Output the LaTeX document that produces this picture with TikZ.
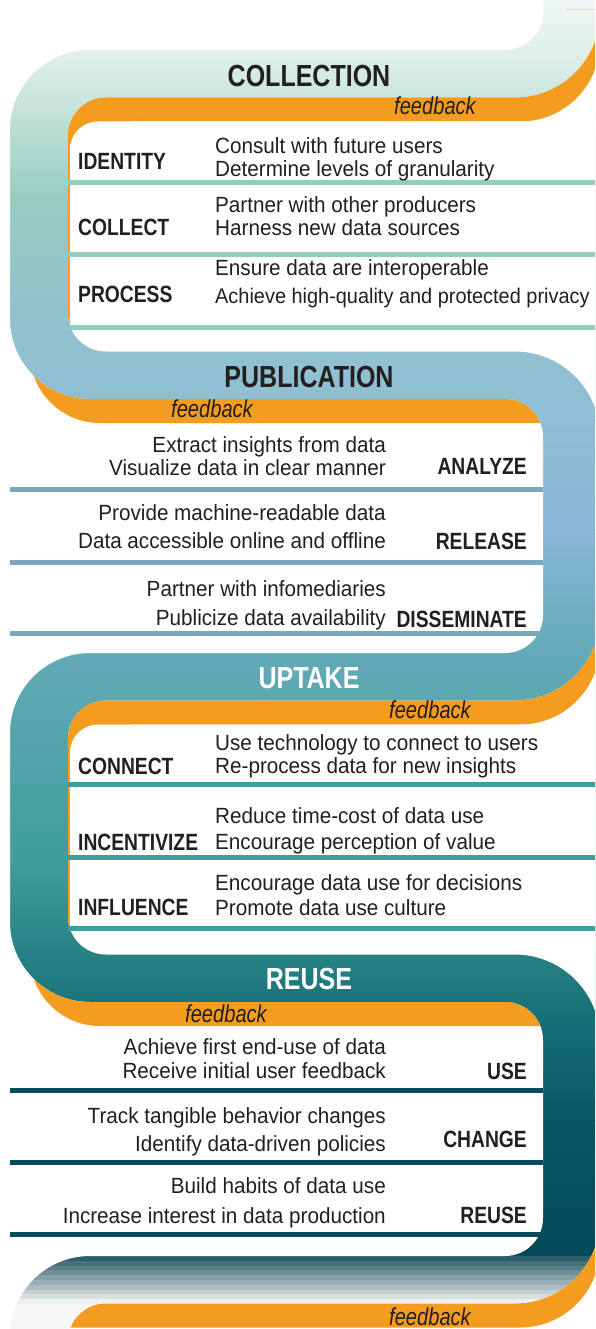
\documentclass[tikz,border=0pt]{standalone}
\usepackage{fontspec}
\setmainfont{Liberation Sans}[FakeStretch=0.94]
\newfontfamily\headfont{Liberation Sans}[FakeStretch=0.82]

\definecolor{inkgray}{HTML}{231F20}
\definecolor{feedorange}{HTML}{F39C1F}
\definecolor{sepmint}{HTML}{93CBBD}
\definecolor{sepblue}{HTML}{7BA7BF}
\definecolor{septeal}{HTML}{3D9E9C}
\definecolor{sepdark}{HTML}{0A4B5A}
\definecolor{bandtop}{HTML}{2F5E6B}
\definecolor{bandbot}{HTML}{F7F7F7}
% ribbon stops
\definecolor{ribbonA}{HTML}{F3F8F6}
\definecolor{ribbonB}{HTML}{DDEEE9}
\definecolor{ribbonC}{HTML}{96CCBF}
\definecolor{ribbonD}{HTML}{90C0CE}
\definecolor{ribbonE}{HTML}{8FBFD5}
\definecolor{ribbonF}{HTML}{88B6D7}
\definecolor{ribbonG}{HTML}{64AAB8}
\definecolor{ribbonH}{HTML}{3E9E9C}
\definecolor{ribbonI}{HTML}{1B7479}
\definecolor{ribbonJ}{HTML}{065767}
\definecolor{ribbonK}{HTML}{044A58}

\tikzset{
  body/.style={font=\fontsize{22}{26}\selectfont, text=inkgray, inner sep=0pt},
  stagelabel/.style={font=\headfont\bfseries\fontsize{23.5}{27}\selectfont, text=inkgray, inner sep=0pt},
  stagehead/.style={font=\headfont\bfseries\fontsize{30.5}{34}\selectfont, inner sep=0pt},
  feedlabel/.style={font=\headfont\itshape\fontsize{24.5}{28}\selectfont, text=inkgray, inner sep=0pt},
  sepline/.style={line width=5pt},
}

% white ground on the left side of the ribbon
\def\leftwhite{(-50,-50) -- (543,-50) -- (543,12) arc[start angle=0,end angle=90,radius=38]
  -- (90,50) arc[start angle=270,end angle=180,radius=80]
  -- (10,319) arc[start angle=180,end angle=90,radius=80]
  -- (505,399) arc[start angle=270,end angle=360,radius=38]
  -- (543,615) arc[start angle=0,end angle=90,radius=38]
  -- (90,653) arc[start angle=270,end angle=180,radius=80]
  -- (10,922) arc[start angle=180,end angle=90,radius=80]
  -- (505,1002) arc[start angle=270,end angle=360,radius=38]
  -- (543,1218) arc[start angle=0,end angle=90,radius=38]
  -- (90,1256) arc[start angle=270,end angle=180,radius=80]
  -- (10,1400) -- (-50,1400) -- cycle}
% white ground on the right side of the ribbon
\def\rightwhite{(650,-50) -- (600,-50) -- (600,12.5) arc[start angle=0,end angle=90,radius=85]
  -- (106,97.5) arc[start angle=270,end angle=180,radius=38]
  -- (68,313.5) arc[start angle=180,end angle=90,radius=38]
  -- (515,351.5) arc[start angle=270,end angle=360,radius=85]
  -- (600,615.5) arc[start angle=0,end angle=90,radius=85]
  -- (106,700.5) arc[start angle=270,end angle=180,radius=38]
  -- (68,916.5) arc[start angle=180,end angle=90,radius=38]
  -- (515,954.5) arc[start angle=270,end angle=360,radius=85]
  -- (600,1218.5) arc[start angle=0,end angle=90,radius=85]
  -- (106,1303.5) arc[start angle=270,end angle=180,radius=38]
  -- (68,1400) -- (650,1400) -- cycle}

\begin{document}
\begin{tikzpicture}[x=1pt,y=-1pt]
  \useasboundingbox (0,0) rectangle (595,1329);
  \clip (0,0) rectangle (595,1329);

  % ribbon colours, top to bottom
  \shade[top color=ribbonA, bottom color=ribbonB] (-10,-10) rectangle (610,60.5);
  \shade[top color=ribbonB, bottom color=ribbonC] (-10,60) rectangle (610,200.5);
  \shade[top color=ribbonC, bottom color=ribbonD] (-10,200) rectangle (610,330.5);
  \shade[top color=ribbonD, bottom color=ribbonE] (-10,330) rectangle (610,420.5);
  \shade[top color=ribbonE, bottom color=ribbonF] (-10,420) rectangle (610,530.5);
  \shade[top color=ribbonF, bottom color=ribbonG] (-10,530) rectangle (610,650.5);
  \shade[top color=ribbonG, bottom color=ribbonH] (-10,650) rectangle (610,860.5);
  \shade[top color=ribbonH, bottom color=ribbonI] (-10,860) rectangle (610,1000.5);
  \shade[top color=ribbonI, bottom color=ribbonJ] (-10,1000) rectangle (610,1120.5);
  \shade[top color=ribbonJ, bottom color=ribbonK] (-10,1120) rectangle (610,1256.5);
  \foreach \k [evaluate=\k as \mix using int(100-10.5*\k)] in {0,...,9}
    \fill[bandtop!\mix!bandbot] (-10,{1256+4.8*\k}) rectangle (610,{1261.2+4.8*\k});
  \fill[bandbot] (-10,1304) rectangle (610,1340);

  % ground on both sides
  \fill[white] \leftwhite;
  \fill[white] \rightwhite;
  \draw[feedorange!35, line width=1pt] (566,10) -- (595,10);

  % feedback lanes, right-hand bays
  \begin{scope}
    \clip \rightwhite;
    \fill[feedorange] (60,-50) -- (600,-50) -- (600,41.5) arc[start angle=0,end angle=90,radius=80]
      -- (130,121.5) -- (130,329.5) -- (60,329.5) -- cycle;
    \fill[feedorange] (60,553) -- (600,553) -- (600,644.5) arc[start angle=0,end angle=90,radius=80]
      -- (130,724.5) -- (130,930.5) -- (60,930.5) -- cycle;
    \fill[feedorange] (60,1156) -- (600,1156) -- (600,1247.5) arc[start angle=0,end angle=90,radius=80]
      -- (60,1327.5) -- cycle;
  \end{scope}
  % feedback lanes, left-hand bays
  \begin{scope}
    \clip \leftwhite;
    \fill[feedorange] (30,300) -- (700,300) -- (700,423)
      -- (100,423) arc[start angle=90,end angle=180,radius=70] -- cycle;
    \fill[feedorange] (30,903) -- (700,903) -- (700,1026)
      -- (100,1026) arc[start angle=90,end angle=180,radius=70] -- cycle;
  \end{scope}

  % white boxes
  \fill[white] (70,329.5) -- (70,149.5) arc[start angle=180,end angle=270,radius=28]
    -- (610,121.5) -- (610,329.5) -- cycle;
  \fill[white] (70,930.5) -- (70,752.5) arc[start angle=180,end angle=270,radius=28]
    -- (610,724.5) -- (610,930.5) -- cycle;

  % separators
  \foreach \y in {183,255,327} \draw[sepline, sepmint] (68,\y) -- (600,\y);
  \foreach \y in {489,562,633} \draw[sepline, sepblue] (10,\y) -- (543,\y);
  \foreach \y in {784,857,928} \draw[sepline, septeal] (68,\y) -- (600,\y);
  \foreach \y in {1090,1162,1234} \draw[sepline, sepdark] (10,\y) -- (543,\y);

  % stage titles
  \node[stagehead, text=inkgray, anchor=base] (collection) at (309,87) {COLLECTION};
  \node[stagehead, text=inkgray, anchor=base] (publication) at (309,387) {PUBLICATION};
  \node[stagehead, text=white, anchor=base] (uptake) at (309,688) {UPTAKE};
  \node[stagehead, text=white, anchor=base] (reuse) at (309,989) {REUSE};

  % feedback
  \node[feedlabel, anchor=base] (feedback1) at (435,115) {feedback};
  \node[feedlabel, anchor=base] (feedback2) at (212,417) {feedback};
  \node[feedlabel, anchor=base] (feedback3) at (430,718) {feedback};
  \node[feedlabel, anchor=base] (feedback4) at (226,1022) {feedback};
  \node[feedlabel, anchor=base] (feedback5) at (430,1325) {feedback};

  % collection
  \node[stagelabel, anchor=base west] (identify) at (78,170) {IDENTITY};
  \node[body, anchor=base west] (identify-a) at (215,154) {Consult with future users};
  \node[body, anchor=base west] (identify-b) at (215,177) {Determine levels of granularity};
  \node[stagelabel, anchor=base west] (collect) at (78,236) {COLLECT};
  \node[body, anchor=base west] (collect-a) at (215,213) {Partner with other producers};
  \node[body, anchor=base west] (collect-b) at (215,236) {Harness new data sources};
  \node[stagelabel, anchor=base west] (process) at (78,302) {PROCESS};
  \node[body, anchor=base west] (process-a) at (215,276) {Ensure data are interoperable};
  \node[body, anchor=base west, font=\fontsize{21.2}{26}\selectfont] (process-b) at (215,303) {Achieve high-quality and protected privacy};

  % publication
  \node[stagelabel, anchor=base east] (analyze) at (527,474) {ANALYZE};
  \node[body, anchor=base east] (analyze-a) at (386,452) {Extract insights from data};
  \node[body, anchor=base east] (analyze-b) at (386,475) {Visualize data in clear manner};
  \node[stagelabel, anchor=base east] (release) at (527,549) {RELEASE};
  \node[body, anchor=base east] (release-a) at (386,520) {Provide machine-readable data};
  \node[body, anchor=base east] (release-b) at (386,548) {Data accessible online and offline};
  \node[stagelabel, anchor=base east] (disseminate) at (527,627) {DISSEMINATE};
  \node[body, anchor=base east] (disseminate-a) at (386,596) {Partner with infomediaries};
  \node[body, anchor=base east] (disseminate-b) at (386,625) {Publicize data availability};

  % uptake
  \node[stagelabel, anchor=base west] (connect) at (78,774) {CONNECT};
  \node[body, anchor=base west] (connect-a) at (215,750) {Use technology to connect to users};
  \node[body, anchor=base west] (connect-b) at (215,773) {Re-process data for new insights};
  \node[stagelabel, anchor=base west] (incentivize) at (78,850) {INCENTIVIZE};
  \node[body, anchor=base west] (incentivize-a) at (215,823) {Reduce time-cost of data use};
  \node[body, anchor=base west] (incentivize-b) at (215,849) {Encourage perception of value};
  \node[stagelabel, anchor=base west] (influence) at (78,915) {INFLUENCE};
  \node[body, anchor=base west] (influence-a) at (215,890) {Encourage data use for decisions};
  \node[body, anchor=base west] (influence-b) at (215,915) {Promote data use culture};

  % reuse
  \node[stagelabel, anchor=base east] (use) at (527,1079) {USE};
  \node[body, anchor=base east] (use-a) at (386,1054) {Achieve first end-use of data};
  \node[body, anchor=base east] (use-b) at (386,1078) {Receive initial user feedback};
  \node[stagelabel, anchor=base east] (change) at (527,1147) {CHANGE};
  \node[body, anchor=base east] (change-a) at (386,1123) {Track tangible behavior changes};
  \node[body, anchor=base east] (change-b) at (386,1151) {Identify data-driven policies};
  \node[stagelabel, anchor=base east] (reusing) at (527,1223) {REUSE};
  \node[body, anchor=base east] (reusing-a) at (386,1193) {Build habits of data use};
  \node[body, anchor=base east] (reusing-b) at (386,1223) {Increase interest in data production};
\end{tikzpicture}
\end{document}
